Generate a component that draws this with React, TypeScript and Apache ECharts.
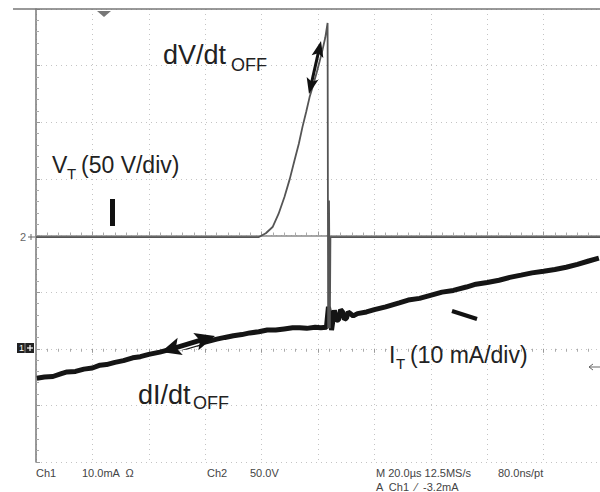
import React, { useEffect, useRef } from "react";
import * as echarts from "echarts";

// Time axis in µs (20 µs/div, 10 div), Ch2 voltage in V (50 V/div), Ch1 current in mA (10 mA/div)
const timeTicks = [0, 20, 40, 60, 80, 100, 120, 140, 160, 180, 200];

// Ch2: V_T (time µs, volts)
const vT: [number, number][] = [
  [0, -1.5], [78.9, -1.5], [81.5, 2], [83.9, 7.5], [86, 19], [88.1, 34], [90, 50],
  [91.7, 66.7], [93.2, 81], [94.5, 95.9], [95.8, 109], [97.0, 122], [98.3, 133],
  [99.5, 143.5], [100.6, 154], [101.6, 163.9], [102.6, 175], [103.4, 187.7],
  [103.6, -82], [103.9, 31], [104.1, 31], [104.2, -82], [104.4, -1.5], [200, -1.5],
];

// Ch1: I_T (time µs, mA)
const iT: [number, number][] = [
  [0.3, -5.2], [3, -5.0], [6, -4.9], [9, -4.4], [11, -4.1], [14, -4.0], [17, -3.6],
  [20, -3.4], [22.7, -2.9], [25, -2.8], [28, -2.4], [31, -2.1], [34.3, -1.6],
  [37, -1.4], [40, -1.0], [43.9, -0.6], [47, -0.2], [50, 0.1], [53.5, 0.3],
  [57, 0.8], [60, 1.2], [64.1, 1.7], [67, 2.0], [70, 2.3], [73, 2.5], [75.8, 2.8],
  [79, 3.0], [82, 3.3], [85, 3.3], [88, 3.5], [91, 3.7], [93.5, 3.7], [96, 3.6],
  [99, 3.8], [101, 3.7], [103.0, 3.8], [103.7, 7.4], [104.4, 5.5], [104.8, 3.3],
  [105.8, 6.8], [106.5, 5.0], [107.3, 5.1], [108.0, 6.9], [108.7, 6.5],
  [109.4, 5.2], [110.1, 5.4], [110.7, 6.5], [111.2, 6.3], [112.5, 5.8],
  [114, 6.2], [117.2, 6.5], [120, 6.9], [124, 7.4], [128.8, 8.1], [132, 8.6],
  [136, 8.9], [140.5, 9.5], [144, 10.0], [148, 10.3], [152.6, 10.9], [156, 11.4],
  [160, 11.7], [164.2, 12.1], [168, 12.6], [172, 13.0], [175.9, 13.4], [180, 13.7],
  [184, 14.0], [188.0, 14.4], [192, 14.9], [196, 15.5], [199.6, 16.0],
];

const bottomLabels = [
  { text: "Ch1", x: 36, y: 473 },
  { text: "10.0mA  Ω", x: 82, y: 473 },
  { text: "Ch2", x: 207, y: 473 },
  { text: "50.0V", x: 250, y: 473 },
  { text: "M 20.0µs 12.5MS/s", x: 376, y: 473 },
  { text: "80.0ns/pt", x: 498, y: 473 },
  { text: "A  Ch1  ⁄  -3.2mA", x: 376, y: 487 },
];

const FONT = "Liberation Sans, Arial, sans-serif";

function arrowHead(tip: [number, number], dir: [number, number], len: number, half: number) {
  const [ux, uy] = dir;
  const nx = -uy, ny = ux;
  const bx = tip[0] + ux * len, by = tip[1] + uy * len;
  return [
    [tip[0], tip[1]],
    [bx + nx * half, by + ny * half],
    [tip[0] + ux * len * 0.78, tip[1] + uy * len * 0.78],
    [bx - nx * half, by - ny * half],
  ];
}

function doubleArrow(a: [number, number], b: [number, number], len: number, half: number, w: number, outline = false) {
  const dx = b[0] - a[0], dy = b[1] - a[1];
  const L = Math.hypot(dx, dy);
  const u: [number, number] = [dx / L, dy / L];
  const m: [number, number] = [-u[0], -u[1]];
  const shaft = { x1: a[0] + u[0] * len * 0.7, y1: a[1] + u[1] * len * 0.7, x2: b[0] - u[0] * len * 0.7, y2: b[1] - u[1] * len * 0.7 };
  const els: any[] = [];
  if (outline) {
    els.push({ type: "line", shape: shaft, style: { stroke: "#fff", lineWidth: w + 3 }, z: 99 });
  }
  els.push(
    { type: "line", shape: shaft, style: { stroke: "#111", lineWidth: w }, z: 100 },
    { type: "polygon", shape: { points: arrowHead(a, u, len, half) }, style: { fill: "#111" }, z: 100 },
    { type: "polygon", shape: { points: arrowHead(b, m, len, half) }, style: { fill: "#111" }, z: 100 },
  );
  return els;
}

function txt(text: string, x: number, y: number, size: number, color = "#222") {
  return {
    type: "text",
    x,
    y,
    z: 100,
    style: { text, fontSize: size, fontFamily: FONT, fill: color, verticalAlign: "middle", align: "left" },
  };
}

export default function App() {
  const ref = useRef<HTMLDivElement>(null);
  useEffect(() => {
    if (!ref.current) return;
    const chart = echarts.init(ref.current, undefined, { renderer: "svg" });
    const gridLine = { show: true, lineStyle: { color: "#c4c4c4", type: [1, 4] as any, width: 1 } };
    chart.setOption({
      animation: false,
      backgroundColor: "#fff",
      grid: { left: 36, top: 9, right: -1, bottom: 30, containLabel: false },
      xAxis: [
        {
          type: "value", min: 0, max: 200, interval: 20,
          axisLine: { show: true, lineStyle: { color: "#8a8a8a", width: 1.5 } },
          axisTick: { show: true, inside: true, length: 4, lineStyle: { color: "#999" } },
          minorTick: { show: true, splitNumber: 5, length: 3, lineStyle: { color: "#aaa" } },
          axisLabel: { show: false },
          splitLine: gridLine,
        },
        {
          type: "value", min: 0, max: 200, interval: 20, position: "top",
          axisLine: { show: false },
          axisTick: { show: true, inside: true, length: 4, lineStyle: { color: "#999" } },
          minorTick: { show: true, splitNumber: 5, length: 3, lineStyle: { color: "#aaa" } },
          axisLabel: { show: false },
          splitLine: { show: false },
        },
      ],
      yAxis: [
        {
          type: "value", min: -200, max: 200, interval: 50,
          axisLine: { show: true, lineStyle: { color: "#777", width: 1.5 } },
          axisTick: { show: true, inside: true, length: 4, lineStyle: { color: "#999" } },
          minorTick: { show: true, splitNumber: 5, length: 3, lineStyle: { color: "#aaa" } },
          axisLabel: { show: false },
          splitLine: gridLine,
        },
        {
          type: "value", min: -20, max: 60, interval: 10, position: "right",
          axisLine: { show: false }, axisTick: { show: false }, axisLabel: { show: false },
          splitLine: { show: false },
        },
      ],
      series: [
        {
          name: "V_T", type: "line", data: vT, xAxisIndex: 0, yAxisIndex: 0,
          showSymbol: false, symbol: "none",
          lineStyle: { color: "#555", width: 1.8 }, z: 5,
        },
        {
          name: "I_T", type: "line", data: iT, xAxisIndex: 0, yAxisIndex: 1,
          showSymbol: false, symbol: "none",
          lineStyle: { color: "#151515", width: 5 }, z: 4,
        },
      ],
      graphic: [
        // top frame line
        { type: "line", shape: { x1: 13, y1: 9, x2: 600, y2: 9 }, style: { stroke: "#777", lineWidth: 1.5 }, z: 50 },
        // trigger position marker
        { type: "polygon", shape: { points: [[97, 11], [111, 11], [104, 17]] }, style: { fill: "#777" }, z: 50 },
        // ch2 marker
        txt("2", 20, 237, 11, "#666"),
        { type: "line", shape: { x1: 28, y1: 237, x2: 35, y2: 237 }, style: { stroke: "#666", lineWidth: 1 }, z: 50 },
        { type: "line", shape: { x1: 31, y1: 234, x2: 31, y2: 240 }, style: { stroke: "#666", lineWidth: 1 }, z: 50 },
        // ch1 marker
        { type: "rect", shape: { x: 17, y: 343, width: 17, height: 10 }, style: { fill: "#222" }, z: 50 },
        { type: "line", shape: { x1: 25, y1: 343, x2: 25, y2: 353 }, style: { stroke: "#888", lineWidth: 1 }, z: 51 },
        txt("1", 19, 348, 9, "#fff"),
        { type: "line", shape: { x1: 27, y1: 348, x2: 33, y2: 348 }, style: { stroke: "#fff", lineWidth: 1.2 }, z: 51 },
        { type: "line", shape: { x1: 30, y1: 345, x2: 30, y2: 351 }, style: { stroke: "#fff", lineWidth: 1.2 }, z: 51 },
        // trigger level arrow at right
        { type: "line", shape: { x1: 589, y1: 367, x2: 600, y2: 367 }, style: { stroke: "#666", lineWidth: 1 }, z: 50 },
        { type: "polyline", shape: { points: [[593, 364], [589, 367], [593, 370]] }, style: { stroke: "#666", lineWidth: 1, fill: null }, z: 50 },
        // annotations
        txt("dV/dt", 163, 54.5, 27),
        txt("OFF", 231, 64.5, 18),
        ...doubleArrow([321, 41], [309, 94], 16, 6, 3),
        txt("V", 52, 165, 23),
        txt("T", 67, 173, 15),
        txt("(50 V/div)", 81, 165, 23),
        { type: "rect", shape: { x: 110, y: 199, width: 5, height: 27 }, style: { fill: "#111" }, z: 100 },
        txt("dI/dt", 138, 394.5, 27),
        txt("OFF", 193, 403, 18),
        ...doubleArrow([161, 352], [215, 336], 20, 9, 5, true),
        txt("I", 389, 355, 23),
        txt("T", 396, 363, 15),
        txt("(10 mA/div)", 410, 355, 23),
        { type: "line", shape: { x1: 452, y1: 311, x2: 477, y2: 319 }, style: { stroke: "#111", lineWidth: 4 }, z: 100 },
        ...bottomLabels.map((l) => txt(l.text, l.x, l.y, 11, "#444")),
      ],
    });
    return () => chart.dispose();
  }, []);
  return <div ref={ref} style={{ position: "fixed", left: 0, top: 0, width: 600, height: 492 }} />;
}
